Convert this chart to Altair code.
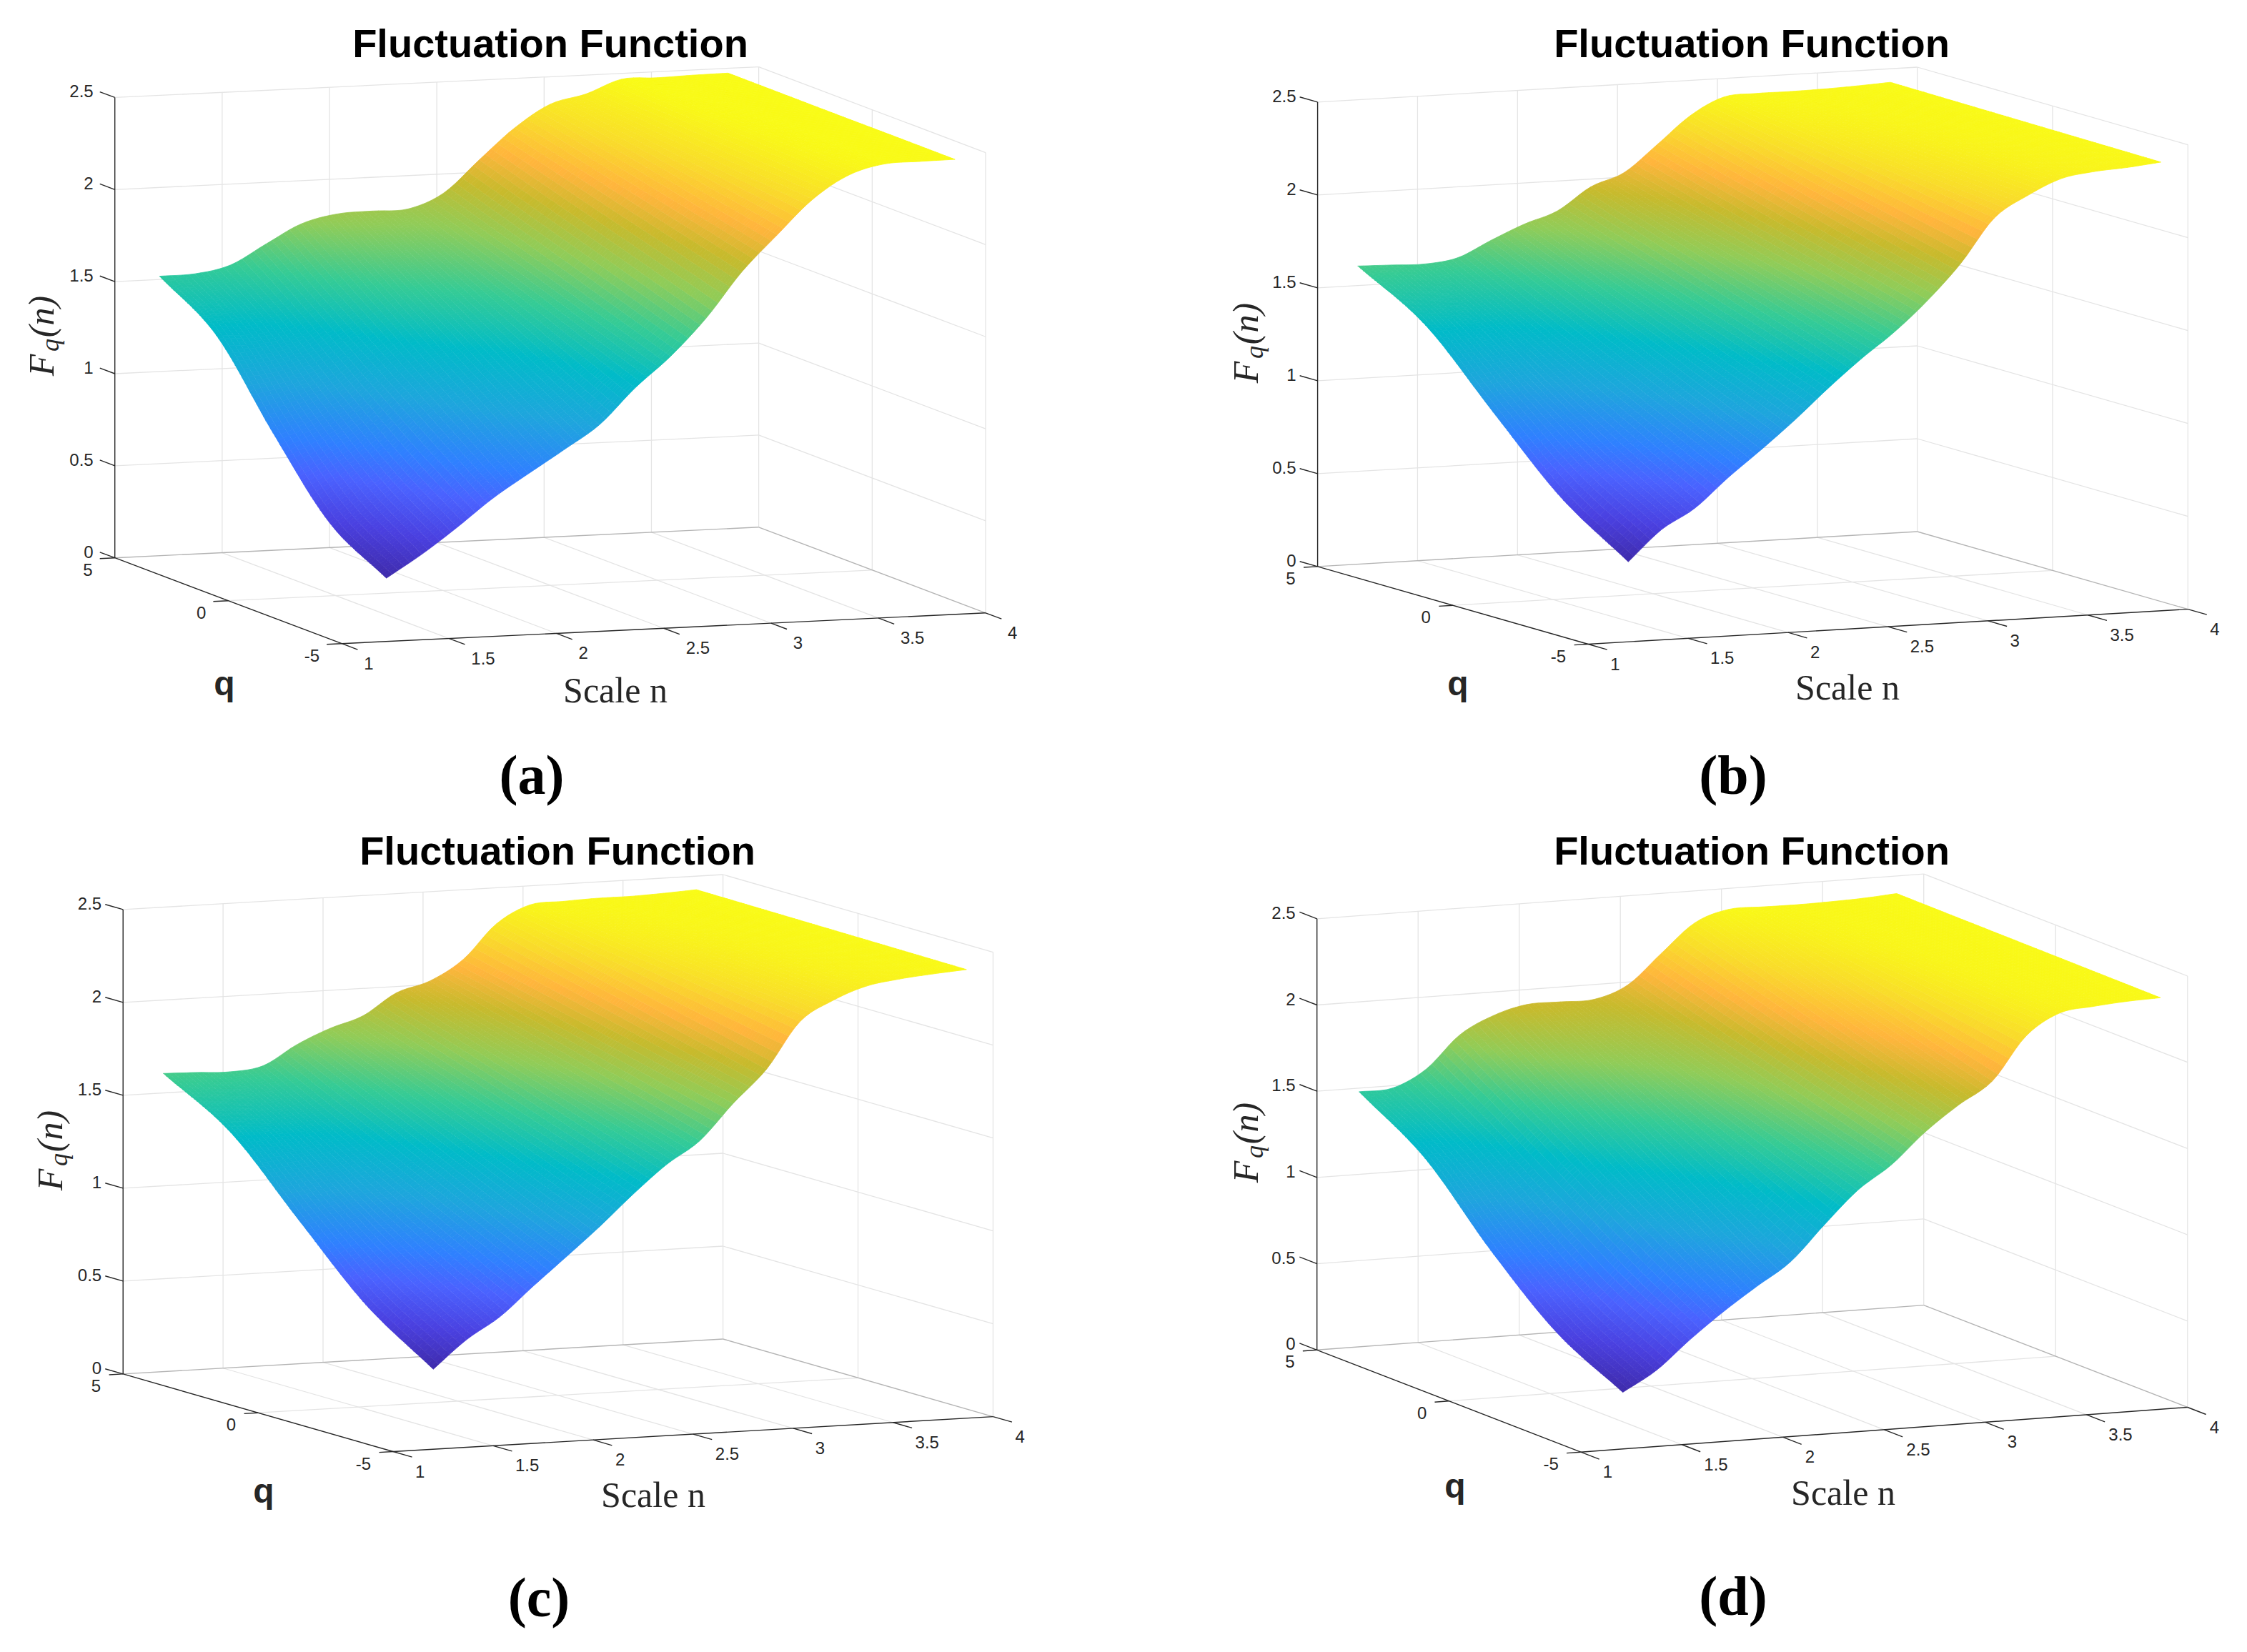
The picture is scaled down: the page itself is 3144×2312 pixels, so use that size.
import altair as alt
import pandas as pd

alt.data_transformers.disable_max_rows()

# Values of F_q(n): one row per q, one column per equally spaced n.
Q_ROWS = [5, 2.5, 0, -2.5, -5]

A_Q5 = [1.518,1.522,1.560,1.665,1.766,1.810,1.817,1.819,1.896,2.067,2.232,2.351,2.397,2.468,2.467,2.472,2.474]
A_Q25 = [1.314,1.308,1.341,1.436,1.543,1.606,1.643,1.692,1.791,1.968,2.153,2.290,2.371,2.454,2.466,2.471,2.473]
A_Q0 = [0.900,0.973,1.071,1.208,1.320,1.403,1.470,1.566,1.686,1.870,2.073,2.229,2.344,2.440,2.466,2.470,2.472]
A_QM25 = [0.527,0.669,0.812,0.979,1.097,1.199,1.296,1.439,1.580,1.772,1.994,2.168,2.317,2.426,2.465,2.470,2.472]
A_QM5 = [0.343,0.464,0.602,0.750,0.874,0.995,1.122,1.312,1.475,1.673,1.914,2.107,2.291,2.412,2.464,2.469,2.471]

B_Q5 = [1.605,1.600,1.595,1.618,1.701,1.778,1.839,1.958,2.024,2.165,2.311,2.400,2.409,2.409,2.412,2.418,2.427]
B_Q25 = [1.391,1.388,1.391,1.427,1.524,1.619,1.704,1.831,1.914,2.060,2.217,2.342,2.376,2.396,2.405,2.413,2.424]
B_Q0 = [1.028,1.097,1.147,1.235,1.347,1.460,1.570,1.704,1.805,1.955,2.123,2.284,2.343,2.383,2.399,2.408,2.421]
B_QM25 = [0.674,0.815,0.912,1.044,1.170,1.300,1.436,1.577,1.695,1.850,2.029,2.225,2.310,2.370,2.392,2.403,2.418]
B_QM5 = [0.430,0.593,0.698,0.852,0.993,1.141,1.301,1.450,1.585,1.745,1.935,2.167,2.277,2.357,2.385,2.397,2.415]

C_Q5 = [1.605,1.600,1.593,1.615,1.717,1.795,1.853,1.966,2.019,2.124,2.306,2.397,2.406,2.412,2.412,2.418,2.427]
C_Q25 = [1.391,1.385,1.388,1.423,1.537,1.633,1.717,1.839,1.908,2.035,2.215,2.344,2.377,2.398,2.405,2.414,2.424]
C_Q0 = [1.028,1.090,1.143,1.231,1.356,1.471,1.582,1.713,1.798,1.946,2.124,2.292,2.349,2.385,2.399,2.410,2.421]
C_QM25 = [0.674,0.804,0.907,1.039,1.175,1.309,1.446,1.586,1.688,1.856,2.033,2.239,2.320,2.371,2.392,2.406,2.418]
C_QM5 = [0.430,0.579,0.692,0.846,0.995,1.147,1.310,1.459,1.577,1.767,1.941,2.186,2.291,2.357,2.385,2.402,2.415]

D_Q5 = [1.479,1.486,1.581,1.765,1.863,1.913,1.914,1.914,1.983,2.152,2.315,2.378,2.378,2.376,2.379,2.385,2.398]
D_Q25 = [1.241,1.255,1.347,1.512,1.619,1.688,1.739,1.786,1.871,2.041,2.199,2.277,2.339,2.367,2.375,2.384,2.395]
D_Q0 = [0.854,0.934,1.080,1.259,1.375,1.464,1.564,1.657,1.758,1.930,2.083,2.177,2.300,2.358,2.372,2.382,2.392]
D_QM25 = [0.526,0.643,0.818,1.006,1.130,1.239,1.388,1.529,1.646,1.819,1.967,2.076,2.260,2.349,2.368,2.380,2.389]
D_QM5 = [0.328,0.441,0.604,0.753,0.886,1.014,1.213,1.400,1.533,1.708,1.851,1.975,2.221,2.340,2.364,2.379,2.386]

N_TICKS = [1, 1.5, 2, 2.5, 3, 3.5, 4]
Z_TICKS = [0, 0.5, 1, 1.5, 2, 2.5]
Q_TICKS = [5, 0, -5]

TITLE = "Fluctuation Function"
NAME_N = "Scale n"
NAME_Q = "q"
COLOR_STOPS = [0, 0.09, 0.18, 0.25, 0.36, 0.47, 0.57, 0.67, 0.76, 0.83, 0.91, 1]
COLOR_RANGE = ["#3e2aaa", "#4a40e0", "#4a62ff", "#2f80ff", "#1ea5dd", "#00bbc8",
               "#35cb95", "#90cc58", "#c8ba2c", "#ffb53c", "#f9dc2a", "#f9fb15"]

PANELS = [
    dict(tag="(a)", rows=[A_Q5, A_Q25, A_Q0, A_QM25, A_QM5], n0=1.207, n1=3.857,
         o=(160.7, 780.7), nv=(300.3, -14.3), qv=(317.5, 120.0), zv=-257.7,
         title=(770, 63), xl=(861, 968), ql=(314, 959), fl=(60, 471), lab=(744, 1088)),
    dict(tag="(b)", rows=[B_Q5, B_Q25, B_Q0, B_QM25, B_QM5], n0=1.200, n1=3.865,
         o=(1843.6, 792.9), nv=(279.7, -16.3), qv=(378.6, 108.6), zv=-260.0,
         title=(2451, 63), xl=(2585, 964), ql=(2040, 959), fl=(1745, 481), lab=(2425, 1088)),
    dict(tag="(c)", rows=[C_Q5, C_Q25, C_Q0, C_QM25, C_QM5], n0=1.200, n1=3.867,
         o=(172.2, 1922.9), nv=(279.8, -16.3), qv=(377.9, 108.6), zv=-260.0,
         title=(780, 1193), xl=(914, 2094), ql=(369, 2089), fl=(72, 1611), lab=(754, 2239)),
    dict(tag="(d)", rows=[D_Q5, D_Q25, D_Q0, D_QM25, D_QM5], n0=1.207, n1=3.866,
         o=(1842.7, 1889.3), nv=(283.0, -20.9), qv=(369.1, 142.9), zv=-241.4,
         title=(2451, 1193), xl=(2579, 2091), ql=(2036, 2082), fl=(1745, 1600), lab=(2425, 2237)),
]


def project(p, n, q, z):
    u = n - 1
    f = (5 - q) / 10
    return (p["o"][0] + u * p["nv"][0] + f * p["qv"][0],
            p["o"][1] + u * p["nv"][1] + f * p["qv"][1] + z * p["zv"])


def spline(v, i, t):
    """Catmull-Rom segment from v[i] to v[i + 1]; it passes through every read value."""
    b = v[i]
    c = v[i + 1]
    a = v[i - 1] if i > 0 else 2 * b - c
    d = v[i + 2] if i + 2 < len(v) else 2 * c - b
    return 0.5 * (2 * b + (c - a) * t + (2 * a - 5 * b + 4 * c - d) * t * t
                  + (3 * b - a - 3 * c + d) * t * t * t)


# Display mesh only, like MATLAB's "shading interp" in the source figure: the read
# cells above are split into small facets so that colour and outline run smoothly.
SUB_N, SUB_Q = 6, 24
verts = []
cell_id = 0
for p in PANELS:
    rows = p["rows"]
    zmin = min(min(r) for r in rows)
    zmax = max(max(r) for r in rows)
    ncol = len(rows[0])
    nrow = len(rows)
    dn = (p["n1"] - p["n0"]) / (ncol - 1)
    n_steps = (ncol - 1) * SUB_N
    q_steps = (nrow - 1) * SUB_Q

    along = []
    for r in rows:
        line = []
        for s in range(n_steps + 1):
            j = min(s // SUB_N, ncol - 2)
            line.append(spline(r, j, s / SUB_N - j))
        along.append(line)

    mesh = []
    for s in range(q_steps + 1):
        i = min(s // SUB_Q, nrow - 2)
        line = []
        for k in range(n_steps + 1):
            col = [along[m][k] for m in range(nrow)]
            z = spline(col, i, s / SUB_Q - i)
            n = p["n0"] + k / SUB_N * dn
            q = 5 - 10 * s / q_steps
            x, y = project(p, n, q, z)
            line.append((round(x, 1), round(y, 1), z))
        mesh.append(line)

    for s in range(q_steps):
        for k in range(n_steps):
            pts = [mesh[s][k], mesh[s][k + 1], mesh[s + 1][k + 1], mesh[s + 1][k]]
            level = round((sum(t[2] for t in pts) / 4 - zmin) / (zmax - zmin), 4)
            for v, t in enumerate(pts):
                verts.append(dict(x=t[0], y=t[1], t=level, c=cell_id, v=v))
            cell_id += 1
surface_df = pd.DataFrame(verts)

grid, edges, dark, z_lab, q_lab, n_lab = [], [], [], [], [], []
titles, xnames, qnames, tags, f_big, f_sub, f_par = [], [], [], [], [], [], []


def seg(lst, p, a, b):
    x, y = project(p, *a)
    x2, y2 = project(p, *b)
    lst.append(dict(x=x, y=y, x2=x2, y2=y2))


for p in PANELS:
    zt = Z_TICKS[-1]
    for n in N_TICKS[1:-1]:
        seg(grid, p, (n, 5, 0), (n, 5, zt))
        seg(grid, p, (n, 5, 0), (n, -5, 0))
    for z in Z_TICKS[1:]:
        seg(grid, p, (1, 5, z), (4, 5, z))
        seg(grid, p, (4, 5, z), (4, -5, z))
    seg(grid, p, (4, 0, 0), (4, 0, zt))
    seg(grid, p, (4, -5, 0), (4, -5, zt))
    seg(grid, p, (4, 5, 0), (4, 5, zt))
    seg(grid, p, (1, 0, 0), (4, 0, 0))
    seg(edges, p, (1, 5, 0), (4, 5, 0))
    seg(edges, p, (4, 5, 0), (4, -5, 0))
    seg(dark, p, (1, 5, 0), (1, 5, zt))
    seg(dark, p, (1, -5, 0), (4, -5, 0))
    seg(dark, p, (1, 5, 0), (1, -5, 0))
    for z in Z_TICKS:
        seg(dark, p, (1, 5, z), (1, 5.66, z))
        x, y = project(p, 1, 5, z)
        z_lab.append(dict(x=x - 30, y=y - 7, s=str(z)))
    for q in Q_TICKS:
        seg(dark, p, (1, q, 0), (0.93, q, 0))
        x, y = project(p, 1, q, 0)
        q_lab.append(dict(x=x - 31, y=y + 18, s=str(q)))
    for n in N_TICKS:
        seg(dark, p, (n, -5, 0), (n, -5.7, 0))
        x, y = project(p, n, -5, 0)
        n_lab.append(dict(x=x + 31, y=y + 29, s=str(n)))
    titles.append(dict(x=p["title"][0], y=p["title"][1], s=TITLE))
    xnames.append(dict(x=p["xl"][0], y=p["xl"][1], s=NAME_N))
    qnames.append(dict(x=p["ql"][0], y=p["ql"][1], s=NAME_Q))
    tags.append(dict(x=p["lab"][0], y=p["lab"][1], s=p["tag"]))
    fx, fy = p["fl"]
    f_big.append(dict(x=fx, y=fy + 40, s="F"))
    f_sub.append(dict(x=fx + 11, y=fy + 12, s="q"))
    f_par.append(dict(x=fx, y=fy - 28, s="(n)"))

X = alt.X("x:Q", axis=None, scale=alt.Scale(domain=[8, 3136], nice=False, zero=False))
Y = alt.Y("y:Q", axis=None, scale=alt.Scale(domain=[2304, 8], nice=False, zero=False))
COL = alt.Scale(domain=COLOR_STOPS, range=COLOR_RANGE, interpolate="rgb")


def rules(lst, color, width):
    return alt.Chart(pd.DataFrame(lst)).mark_rule(color=color, strokeWidth=width).encode(
        x=X, y=Y, x2="x2:Q", y2="y2:Q")


def texts(lst, **kw):
    return alt.Chart(pd.DataFrame(lst)).mark_text(**kw).encode(x=X, y=Y, text="s:N")


surface = alt.Chart(surface_df).mark_line(strokeWidth=0.8, clip=False).encode(
    x=X, y=Y,
    detail="c:N",
    order="v:Q",
    fill=alt.Fill("t:Q", scale=COL, legend=None),
    stroke=alt.Stroke("t:Q", scale=COL, legend=None),
)

SANS = "Liberation Sans"
SERIF = "Liberation Serif"
INK = "#262626"
chart = alt.layer(
    rules(grid, "#e4e4e4", 1.3),
    rules(edges, "#b4b4b4", 1.4),
    surface,
    rules(dark, INK, 1.4),
    texts(z_lab, font=SANS, fontSize=24, color=INK, align="right", baseline="middle"),
    texts(q_lab, font=SANS, fontSize=24, color=INK, align="right", baseline="middle"),
    texts(n_lab, font=SANS, fontSize=24, color=INK, align="left", baseline="middle"),
    texts(titles, font=SANS, fontSize=56, fontWeight="bold", color="black", align="center", baseline="middle"),
    texts(xnames, font=SERIF, fontSize=50, color=INK, align="center", baseline="middle"),
    texts(qnames, font=SANS, fontSize=48, fontWeight="bold", color=INK, align="center", baseline="middle"),
    texts(tags, font=SERIF, fontSize=78, fontWeight="bold", color="black", align="center", baseline="middle"),
    texts(f_big, font=SERIF, fontSize=50, fontStyle="italic", color=INK, angle=270, align="center", baseline="middle"),
    texts(f_sub, font=SERIF, fontSize=36, fontStyle="italic", color=INK, angle=270, align="center", baseline="middle"),
    texts(f_par, font=SERIF, fontSize=50, fontStyle="italic", color=INK, angle=270, align="center", baseline="middle"),
).properties(
    width=3128, height=2296, padding=0,
    autosize=alt.AutoSizeParams(type="none"),
).configure_view(stroke=None)

chart.save("out.html", embed_options={"renderer": "svg", "actions": False})
